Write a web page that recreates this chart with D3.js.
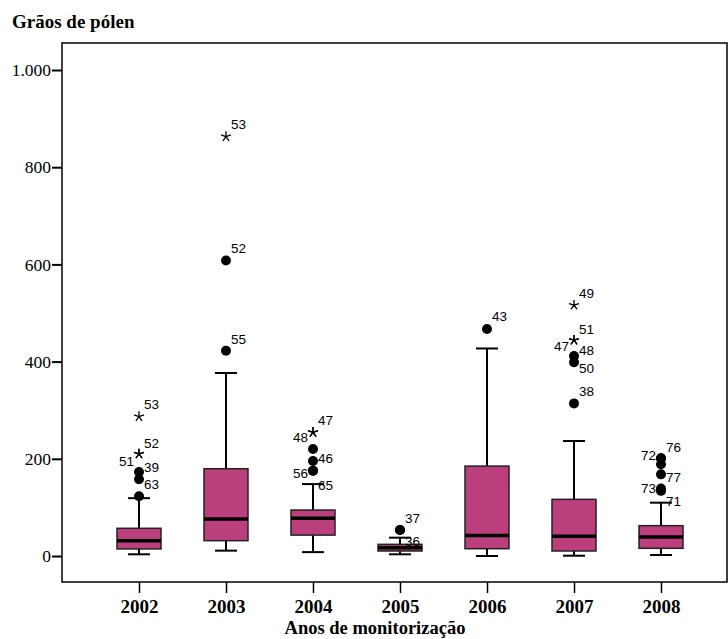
<!DOCTYPE html>
<html>
<head>
<meta charset="utf-8">
<script src="https://cdn.jsdelivr.net/npm/d3@7"></script>
<style>
  body { margin: 0; background: #fff; }
</style>
</head>
<body>
<div id="chart"></div>
<script>
// box plot of pollen grains per monitoring year

const width = 728;
const height = 639;
const margin = {left: 62, right: -10, top: 43, bottom: 57};

// data
const years = ["2002", "2003", "2004", "2005", "2006", "2007", "2008"];
const whiskerLow  = [3.5, 11, 8, 3.5, 0, 0.6, 2];
const q1          = [14.5, 31.5, 43, 10.3, 15, 10.3, 15.8];
const medians     = [31.5, 76, 77.6, 17, 42, 40.5, 39];
const q3          = [57, 179.6, 94.6, 24, 185, 116.6, 62.4];
const whiskerHigh = [119, 376.5, 148, 37.7, 427, 236.6, 109.7];
const yTicks = [0, 200, 400, 600, 800, 1000];

// outliers (extreme = star)
const outliers = [
  {year: "2002", value: 287, id: "53", extreme: true},
  {year: "2002", value: 210, id: "52", extreme: true},
  {year: "2002", value: 210, id: "51", extreme: true},
  {year: "2002", value: 173, id: "39", extreme: false},
  {year: "2002", value: 158, id: "63", extreme: false},
  {year: "2002", value: 123, id: null, extreme: false},
  {year: "2003", value: 863, id: "53", extreme: true},
  {year: "2003", value: 608, id: "52", extreme: false},
  {year: "2003", value: 422.5, id: "55", extreme: false},
  {year: "2004", value: 254.5, id: "47", extreme: true},
  {year: "2004", value: 254.5, id: "48", extreme: true},
  {year: "2004", value: 220, id: null, extreme: false},
  {year: "2004", value: 195.5, id: "46", extreme: false},
  {year: "2004", value: 175.5, id: "56", extreme: false},
  {year: "2004", value: 175.5, id: "65", extreme: false},
  {year: "2005", value: 53.5, id: "37", extreme: false},
  {year: "2005", value: 53.5, id: "36", extreme: false},
  {year: "2006", value: 467, id: "43", extreme: false},
  {year: "2007", value: 516, id: "49", extreme: true},
  {year: "2007", value: 444, id: "51", extreme: true},
  {year: "2007", value: 444, id: "47", extreme: true},
  {year: "2007", value: 411.5, id: "48", extreme: false},
  {year: "2007", value: 398.5, id: "50", extreme: false},
  {year: "2007", value: 314, id: "38", extreme: false},
  {year: "2008", value: 201, id: "76", extreme: false},
  {year: "2008", value: 201, id: "72", extreme: false},
  {year: "2008", value: 188.6, id: null, extreme: false},
  {year: "2008", value: 168, id: "77", extreme: false},
  {year: "2008", value: 139, id: "73", extreme: false},
  {year: "2008", value: 134, id: "71", extreme: false}
];

// where each case label sits: side and vertical shift in px
const labelLayout = {
  "2002-53": ["r", -12], "2002-52": ["r", -11], "2002-51": ["l", 7], "2002-39": ["r", -5], "2002-63": ["r", 5],
  "2003-53": ["r", -12], "2003-52": ["r", -12], "2003-55": ["r", -12],
  "2004-47": ["r", -12], "2004-48": ["l", 5], "2004-46": ["r", -3], "2004-56": ["l", 2], "2004-65": ["r", 14],
  "2005-37": ["r", -12], "2005-36": ["r", 11],
  "2006-43": ["r", -13],
  "2007-49": ["r", -12], "2007-51": ["r", -11], "2007-47": ["l", 6], "2007-48": ["r", -6], "2007-50": ["r", 6], "2007-38": ["r", -12],
  "2008-76": ["r", -11], "2008-72": ["l", -3], "2008-77": ["r", 3], "2008-73": ["l", 0], "2008-71": ["r", 10]
};

const boxFill = "#ba3f7c";
const boxWidth = 44;
const capWidth = 22;

const svg = d3.select("#chart")
  .append("svg")
  .attr("width", width)
  .attr("height", height);

const plotRight = width - margin.right; // frame runs a bit past the page edge
const plotBottom = height - margin.bottom;

// scales
const yScale = d3.scaleLinear()
  .domain([0, 1000])
  .range([556, 70]);

const xScale = d3.scalePoint()
  .domain(years)
  .range([margin.left, plotRight])
  .padding(0.885);

// frame
svg.append("rect")
  .attr("x", margin.left)
  .attr("y", margin.top)
  .attr("width", width - 1 - margin.left)
  .attr("height", plotBottom - margin.top)
  .attr("fill", "none")
  .attr("stroke", "#000")
  .attr("stroke-width", 1.5);

// y axis
const ptLocale = d3.formatLocale({decimal: ",", thousands: ".", grouping: [3], currency: ["", ""]});
const yAxis = svg.append("g")
  .attr("transform", `translate(${margin.left},0)`)
  .call(d3.axisLeft(yScale).tickValues(yTicks).tickSize(10).tickPadding(1).tickFormat(ptLocale.format(",")));
yAxis.select(".domain").remove();
yAxis.selectAll(".tick line").attr("stroke-width", 2);
yAxis.selectAll("text")
  .attr("font-family", "'Liberation Serif', 'Times New Roman', serif")
  .attr("font-size", "17.5px")
  .attr("fill", "#000");

// x axis
const xAxis = svg.append("g")
  .attr("transform", `translate(0,${plotBottom})`)
  .call(d3.axisBottom(xScale).tickSize(11).tickPadding(7));
xAxis.select(".domain").remove();
xAxis.selectAll(".tick line").attr("stroke-width", 1.5);
xAxis.selectAll("text")
  .attr("font-family", "'Liberation Serif', 'Times New Roman', serif")
  .attr("font-weight", "bold")
  .attr("font-size", "19px")
  .attr("fill", "#000");

// titles
svg.append("text")
  .attr("x", 12)
  .attr("y", 28)
  .attr("font-family", "'Liberation Serif', 'Times New Roman', serif")
  .attr("font-weight", "bold")
  .attr("font-size", "19px")
  .text("Grãos de pólen");

svg.append("text")
  .attr("x", 375)
  .attr("y", 634)
  .attr("text-anchor", "middle")
  .attr("font-family", "'Liberation Serif', 'Times New Roman', serif")
  .attr("font-weight", "bold")
  .attr("font-size", "18.5px")
  .text("Anos de monitorização");

// boxes
const stats = years.map((y, i) => ({
  year: y, lo: whiskerLow[i], q1: q1[i], med: medians[i], q3: q3[i], hi: whiskerHigh[i]
}));

const boxes = svg.selectAll(".box")
  .data(stats)
  .enter()
  .append("g")
  .attr("class", "box");

// whisker stems
boxes.append("line")
  .attr("x1", d => xScale(d.year)).attr("x2", d => xScale(d.year))
  .attr("y1", d => yScale(d.hi)).attr("y2", d => yScale(d.lo))
  .attr("stroke", "#000").attr("stroke-width", 2);

// caps
boxes.selectAll(".cap")
  .data(d => [{year: d.year, v: d.hi}, {year: d.year, v: d.lo}])
  .enter()
  .append("line")
  .attr("class", "cap")
  .attr("x1", d => xScale(d.year) - capWidth / 2)
  .attr("x2", d => xScale(d.year) + capWidth / 2)
  .attr("y1", d => yScale(d.v)).attr("y2", d => yScale(d.v))
  .attr("stroke", "#000").attr("stroke-width", 2);

boxes.append("rect")
  .attr("x", d => xScale(d.year) - boxWidth / 2)
  .attr("y", d => yScale(d.q3))
  .attr("width", boxWidth)
  .attr("height", d => yScale(d.q1) - yScale(d.q3))
  .attr("fill", boxFill)
  .attr("stroke", "#222")
  .attr("stroke-width", 1.5);

boxes.append("line")
  .attr("x1", d => xScale(d.year) - boxWidth / 2)
  .attr("x2", d => xScale(d.year) + boxWidth / 2)
  .attr("y1", d => yScale(d.med)).attr("y2", d => yScale(d.med))
  .attr("stroke", "#000").attr("stroke-width", 3.5);

// outlier marks
const star = {
  draw(context, size) {
    const r = Math.sqrt(size) / 2;
    for (let k = 0; k < 5; k++) {
      const a = -Math.PI / 2 + k * 2 * Math.PI / 5;
      context.moveTo(0, 0);
      context.lineTo(r * Math.cos(a), r * Math.sin(a));
    }
  }
};

svg.selectAll(".outlier")
  .data(outliers)
  .enter()
  .append("path")
  .attr("class", "outlier")
  .attr("transform", d => `translate(${xScale(d.year)},${yScale(d.value)})`)
  .attr("d", d => d.extreme ? d3.symbol(star, 110)() : d3.symbol(d3.symbolCircle, 78)())
  .attr("fill", d => d.extreme ? "none" : "#000")
  .attr("stroke", "#000")
  .attr("stroke-width", d => d.extreme ? 1.3 : 0);

// case labels
svg.selectAll(".case-label")
  .data(outliers.filter(d => d.id !== null))
  .enter()
  .append("text")
  .attr("class", "case-label")
  .attr("x", d => {
    const side = labelLayout[d.year + "-" + d.id][0];
    return xScale(d.year) + (side === "r" ? 5 : -5);
  })
  .attr("y", d => yScale(d.value) + labelLayout[d.year + "-" + d.id][1])
  .attr("dy", "0.36em")
  .attr("text-anchor", d => labelLayout[d.year + "-" + d.id][0] === "r" ? "start" : "end")
  .attr("font-family", "'Liberation Sans', Arial, sans-serif")
  .attr("font-size", "13.5px")
  .attr("fill", "#000")
  .text(d => d.id);
</script>
</body>
</html>
